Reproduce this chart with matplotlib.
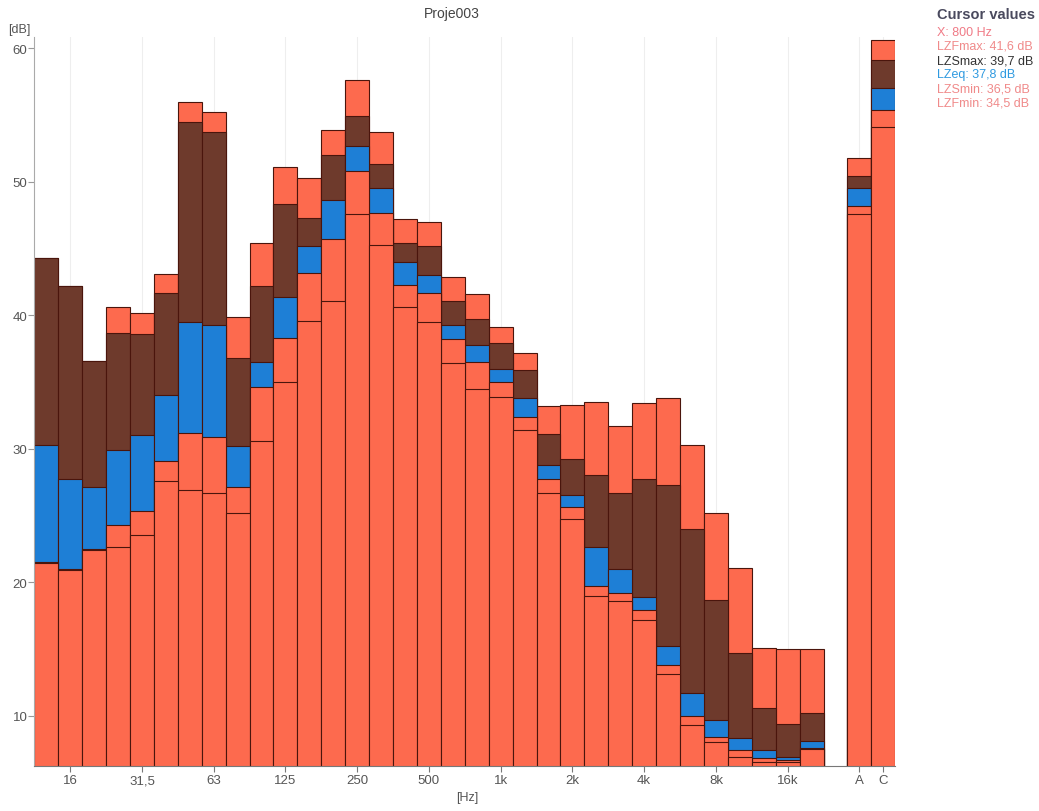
import numpy as np
import matplotlib
matplotlib.use("Agg")
import matplotlib.pyplot as plt

plt.rcParams['font.family'] = ['Liberation Sans', 'DejaVu Sans']

# ---- data ----
bands = ['12,5', '16', '20', '25', '31,5', '40', '50', '63', '80', '100', '125', '160',
         '200', '250', '315', '400', '500', '630', '800', '1k', '1,25k', '1,6k', '2k',
         '2,5k', '3,15k', '4k', '5k', '6,3k', '8k', '10k', '12,5k', '16k', '20k', 'A', 'C']
shown_labels = ['16', '31,5', '63', '125', '250', '500', '1k', '2k', '4k', '8k', '16k', 'A', 'C']

LZFmax = [44.3, 42.2, 36.6, 40.6, 40.2, 43.1, 56.0, 55.2, 39.9, 45.4, 51.1, 50.3, 53.9, 57.6,
          53.7, 47.2, 47.0, 42.9, 41.6, 39.1, 37.2, 33.2, 33.3, 33.5, 31.7, 33.4, 33.8, 30.3,
          25.2, 21.1, 15.1, 15.0, 15.0, 51.8, 60.6]
LZSmax = [44.3, 42.2, 36.6, 38.7, 38.6, 41.7, 54.5, 53.7, 36.8, 42.2, 48.3, 47.3, 52.0, 54.9,
          51.3, 45.4, 45.2, 41.1, 39.7, 37.9, 35.9, 31.1, 29.2, 28.0, 26.7, 27.7, 27.3, 24.0,
          18.7, 14.7, 10.6, 9.4, 10.2, 50.4, 59.1]
LZeq = [30.3, 27.7, 27.1, 29.9, 31.0, 34.0, 39.5, 39.3, 30.2, 36.5, 41.4, 45.2, 48.6, 52.7,
        49.5, 44.0, 43.0, 39.3, 37.8, 36.0, 33.8, 28.8, 26.5, 22.6, 21.0, 18.9, 15.2, 11.7,
        9.7, 8.3, 7.4, 6.9, 8.1, 49.5, 57.0]
LZSmin = [21.5, 21.0, 22.5, 24.3, 25.3, 29.1, 31.2, 30.9, 27.1, 34.6, 38.3, 43.2, 45.7, 50.8,
          47.7, 42.3, 41.7, 38.2, 36.5, 35.0, 32.4, 27.7, 25.6, 19.7, 19.2, 17.9, 13.8, 10.0,
          8.4, 7.4, 6.8, 6.7, 7.6, 48.2, 55.4]
LZFmin = [21.4, 20.9, 22.4, 22.6, 23.5, 27.6, 26.9, 26.7, 25.2, 30.6, 35.0, 39.6, 41.1, 47.6,
          45.3, 40.6, 39.5, 36.4, 34.5, 33.9, 31.4, 26.7, 24.7, 19.0, 18.6, 17.2, 13.1, 9.3,
          8.0, 6.9, 6.5, 6.5, 7.5, 47.6, 54.1]

cursor_lines = [("X: 800 Hz", "#f07a86"),
                ("LZFmax: 41,6 dB", "#f08a8a"),
                ("LZSmax: 39,7 dB", "#333333"),
                ("LZeq: 37,8 dB", "#2f9ae0"),
                ("LZSmin: 36,5 dB", "#f08a8a"),
                ("LZFmin: 34,5 dB", "#f08a8a")]

# ---- style ----
ORANGE = "#fd6a4e"
BROWN = "#6e3a2c"
BLUE = "#1e7fd6"
EDGE = "#4a150c"

n_bands = len(bands) - 2
xpos = np.r_[np.arange(n_bands), n_bands + 1, n_bands + 2]

fig = plt.figure(figsize=(10.39, 8.12), dpi=100)
ax = fig.add_axes([0.033, 0.0558, 0.8287, 0.8974])

series = [(LZFmax, ORANGE), (LZSmax, BROWN), (LZeq, BLUE), (LZSmin, ORANGE), (LZFmin, ORANGE)]
for vals, col in series:
    ax.bar(xpos, vals, width=1.0, bottom=0, color=col, edgecolor=EDGE, linewidth=0.8, zorder=2)

ax.set_xlim(-0.5, n_bands + 2.5)
ax.set_ylim(6.25, 60.85)

tick_idx = [bands.index(l) for l in shown_labels]
ax.set_xticks(xpos[tick_idx])
ax.set_xticklabels(shown_labels, fontsize=9.5, color="#555555")
ax.set_yticks([10, 20, 30, 40, 50, 60])
ax.set_yticklabels(['10', '20', '30', '40', '50', '60'], fontsize=9.5, color="#555555")
ax.tick_params(axis='x', length=4, width=0.8, color="#777777", pad=2)
ax.tick_params(axis='y', length=4, width=0.8, color="#999999", pad=1)

ax.xaxis.grid(True, color="#eeeeee", linewidth=0.8, zorder=0)
ax.set_axisbelow(True)
for s in ['top', 'right']:
    ax.spines[s].set_visible(False)
ax.spines['left'].set_color("#aaaaaa")
ax.spines['bottom'].set_color("#777777")

fig.text(452 / 1039, 1 - 14 / 812, "Proje003", ha='center', va='center', fontsize=10, color="#444444")
fig.text(8 / 1039, 1 - 30 / 812, "[dB]", ha='left', va='center', fontsize=9, color="#555555")
fig.text(467 / 1039, 1 - 798 / 812, "[Hz]", ha='center', va='center', fontsize=9, color="#555555")

fig.text(937 / 1039, 1 - 15 / 812, "Cursor values", ha='left', va='center', fontsize=10.5,
         fontweight='bold', color="#4a4a5e")
for i, (txt, col) in enumerate(cursor_lines):
    fig.text(937 / 1039, 1 - (32.5 + 14.3 * i) / 812, txt, ha='left', va='center',
             fontsize=9, color=col)

fig.savefig("out.png", dpi=100)
